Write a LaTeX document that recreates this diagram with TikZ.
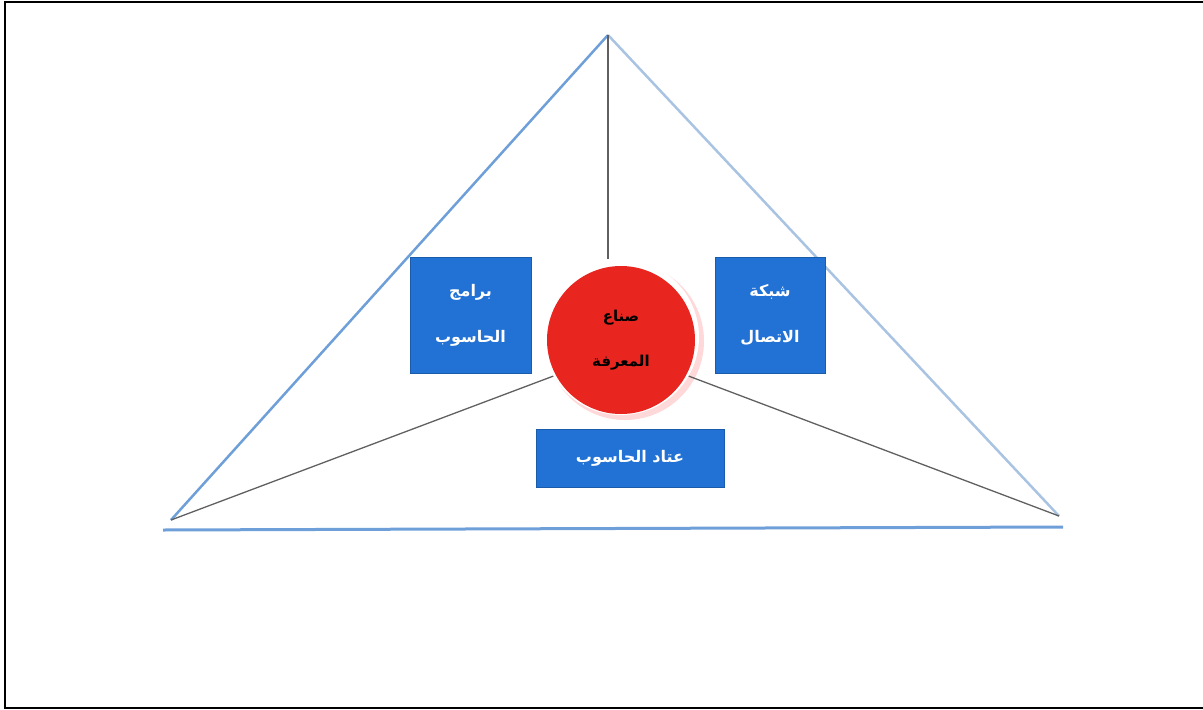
\documentclass[tikz,border=0pt]{standalone}
\usepackage{fontspec}
\newfontfamily\arabicfont[Script=Arabic]{DejaVu Sans}
\TeXXeTstate=1
\definecolor{boxblue}{HTML}{2172D4}
\definecolor{edgeblue}{HTML}{6E9FD8}
\definecolor{edgelight}{HTML}{A9C3E3}
\definecolor{circred}{HTML}{E8261F}
\tikzset{
  bluebox/.style={draw=boxblue!80!black, line width=0.6pt, fill=boxblue, text=white, font=\arabicfont\bfseries\fontsize{16}{46}\selectfont, align=center, inner sep=0pt},
  spoke/.style={draw=gray!75!black, line width=1.3pt},
}
\begin{document}
\begin{tikzpicture}[x=1pt,y=-1pt]
\useasboundingbox (0,0) rectangle (1203,710);
\draw[line width=2.2pt] (1210,2) -- (5,2) -- (5,708) -- (1210,708);
% vertices
\coordinate (apex) at (608,35);
\coordinate (lv) at (171,520);
\coordinate (rv) at (1059,516);
\coordinate (bl) at (163,530);
\coordinate (br) at (1063,527);
% triangle sides
\draw[edgeblue, line width=2.5pt] (lv) -- (apex);
\draw[edgelight, line width=2.5pt] (apex) -- (rv);
\draw[edgeblue, line width=3pt] (bl) -- (br);
% circle
\fill[red!25, opacity=0.6] (625,341) circle (79);
\node[circle, fill=white, minimum size=156pt, inner sep=0pt] (ring) at (621,337) {};
\node[circle, fill=circred, minimum size=148pt, inner sep=0pt, align=center,
      font=\arabicfont\bfseries\fontsize{15}{45}\selectfont] (kc) at (621,340)
      {\beginR صناع\endR\\ \beginR المعرفة\endR};
% spokes
\draw[spoke] (apex) -- (ring.north -| apex);
\draw[spoke] (lv) -- (ring.210);
\draw[spoke] (rv) -- (ring.330);
% boxes
\node[bluebox, minimum width=121pt, minimum height=116pt] (sw) at (470.5,315)
  {\beginR برامج\endR\\ \beginR الحاسوب\endR};
\node[bluebox, minimum width=110pt, minimum height=116pt] (net) at (770,315)
  {\beginR شبكة\endR\\ \beginR الاتصال\endR};
\node[bluebox, minimum width=188pt, minimum height=58pt] (hw) at (630,458)
  {\beginR عتاد الحاسوب\endR};
\end{tikzpicture}
\end{document}
